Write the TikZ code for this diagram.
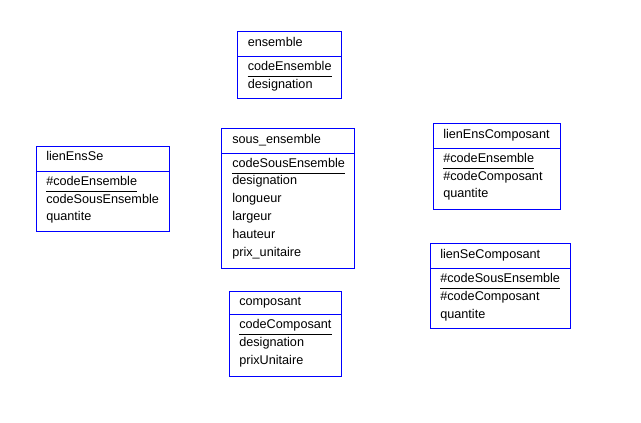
\documentclass[tikz,border=0pt]{standalone}
\usepackage{fontspec}
\setmainfont{Liberation Sans}
\tikzset{
    entite/.style={draw=blue, line width=0.75pt},
    champ/.style={anchor=base west, inner sep=0pt, font=\fontsize{9.5}{11}\selectfont},
    cle/.style={draw=black, line width=0.75pt}
}
\begin{document}
\begin{tikzpicture}[x=0.75pt,y=-0.75pt]
    \useasboundingbox (0,0) rectangle (641,422);

    % ensemble
    \draw[entite] (237.5,31.5) rectangle (341.5,98.5);
    \draw[entite] (237.5,56.5) -- (341.5,56.5);
    \node[champ] (ensTitre) at (247.5,46) {ensemble};
    \node[champ] (ensCode) at (247.5,70) {codeEnsemble};
    \node[champ] (ensDesig) at (247.5,88) {designation};
    \draw[cle] ([yshift=-4.5pt]ensCode.base west) -- ([yshift=-4.5pt]ensCode.base east);

    % sous_ensemble
    \draw[entite] (221.5,128.5) rectangle (354.5,268.5);
    \draw[entite] (221.5,153) -- (354.5,153);
    \node[champ] (seTitre) at (232,143.5) {sous\_ensemble};
    \node[champ] (seCode) at (232,167) {codeSousEnsemble};
    \node[champ] (seDesig) at (232,184.8) {designation};
    \node[champ] (seLong) at (232,202.6) {longueur};
    \node[champ] (seLarg) at (232,220.4) {largeur};
    \node[champ] (seHaut) at (232,238.2) {hauteur};
    \node[champ] (sePrix) at (232,256) {prix\_unitaire};
    \draw[cle] ([yshift=-4.5pt]seCode.base west) -- ([yshift=-4.5pt]seCode.base east);

    % lienEnsSe
    \draw[entite] (36.5,146) rectangle (169.5,231.5);
    \draw[entite] (36.5,171.3) -- (169.5,171.3);
    \node[champ] (lesTitre) at (46,160.7) {lienEnsSe};
    \node[champ] (lesCodeEns) at (46,185.3) {\#codeEnsemble};
    \node[champ] (lesCodeSe) at (46,203) {codeSousEnsemble};
    \node[champ] (lesQte) at (46,220.8) {quantite};
    \draw[cle] ([yshift=-4.5pt]lesCodeEns.base west) -- ([yshift=-4.5pt]lesCodeEns.base east);

    % lienEnsComposant
    \draw[entite] (433.5,123.5) rectangle (560.5,209.5);
    \draw[entite] (433.5,148.3) -- (560.5,148.3);
    \node[champ] (lecTitre) at (443,138) {lienEnsComposant};
    \node[champ] (lecCodeEns) at (443,162.3) {\#codeEnsemble};
    \node[champ] (lecCodeComp) at (443,180) {\#codeComposant};
    \node[champ] (lecQte) at (443,197.8) {quantite};
    \draw[cle] ([yshift=-4.5pt]lecCodeEns.base west) -- ([yshift=-4.5pt]lecCodeEns.base east);

    % lienSeComposant
    \draw[entite] (430.5,243.5) rectangle (570.5,328.5);
    \draw[entite] (430.5,268.7) -- (570.5,268.7);
    \node[champ] (lscTitre) at (440,258) {lienSeComposant};
    \node[champ] (lscCodeSe) at (440,282.7) {\#codeSousEnsemble};
    \node[champ] (lscCodeComp) at (440,300.5) {\#codeComposant};
    \node[champ] (lscQte) at (440,318.3) {quantite};
    \draw[cle] ([yshift=-4.5pt]lscCodeSe.base west) -- ([yshift=-4.5pt]lscCodeSe.base east);

    % composant
    \draw[entite] (229.5,291) rectangle (341.5,376);
    \draw[entite] (229.5,314.7) -- (341.5,314.7);
    \node[champ] (compTitre) at (239,305.7) {composant};
    \node[champ] (compCode) at (239,328.7) {codeComposant};
    \node[champ] (compDesig) at (239,346.5) {designation};
    \node[champ] (compPrix) at (239,364.3) {prixUnitaire};
    \draw[cle] ([yshift=-4.5pt]compCode.base west) -- ([yshift=-4.5pt]compCode.base east);
\end{tikzpicture}
\end{document}
